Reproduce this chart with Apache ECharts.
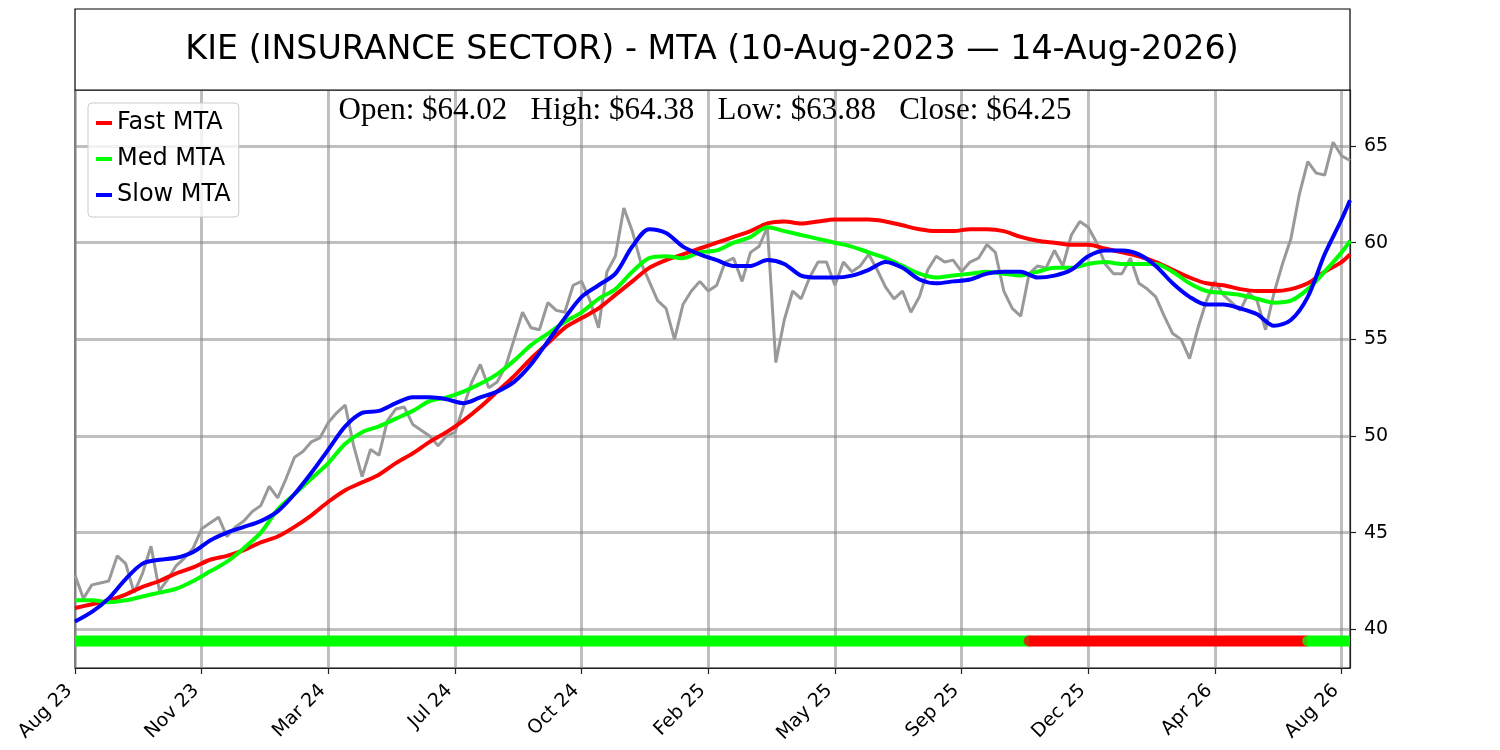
<!DOCTYPE html>
<html>
<head>
<meta charset="utf-8">
<title>KIE - MTA</title>
<script src="https://cdn.jsdelivr.net/npm/echarts@6/dist/echarts.min.js"></script>
<style>
  html, body { margin: 0; padding: 0; background: #fff; }
  #chart { width: 1500px; height: 750px; }
</style>
</head>
<body>
<div id="chart"></div>
<script>
// weekly closes, 10-Aug-2023 .. 14-Aug-2026
var closes = [
  42.8, 41.6, 42.3, 42.4, 42.5, 43.8, 43.4, 41.9, 42.9, 44.3,
  42.0, 42.6, 43.3, 43.7, 44.2, 45.2, 45.5, 45.8, 44.8, 45.3,
  45.6, 46.1, 46.4, 47.4, 46.8, 47.8, 48.9, 49.2, 49.7, 49.9,
  50.7, 51.2, 51.6, 49.5, 47.9, 49.3, 49.0, 50.8, 51.4, 51.5,
  50.6, 50.3, 50.0, 49.5, 50.0, 50.2, 51.5, 52.8, 53.7, 52.5,
  52.8, 53.6, 55.0, 56.4, 55.6, 55.5, 56.9, 56.5, 56.4, 57.8,
  58.0, 57.0, 55.6, 58.5, 59.3, 61.8, 60.6, 59.0, 58.0, 57.0,
  56.6, 55.0, 56.8, 57.5, 58.0, 57.5, 57.8, 59.0, 59.2, 58.0,
  59.5, 59.8, 60.8, 53.8, 56.0, 57.5, 57.1, 58.2, 59.0, 59.0,
  57.8, 59.0, 58.5, 58.8, 59.4, 58.6, 57.7, 57.1, 57.5, 56.4,
  57.2, 58.6, 59.3, 59.0, 59.1, 58.5, 59.0, 59.2, 59.9, 59.5,
  57.5, 56.6, 56.2, 58.4, 58.8, 58.7, 59.6, 58.8, 60.4, 61.1,
  60.8, 60.0, 58.9, 58.4, 58.4, 59.2, 57.9, 57.6, 57.2, 56.2,
  55.3, 55.0, 54.0, 55.6, 57.0, 58.0, 57.3, 56.9, 56.5, 57.4,
  57.0, 55.5, 57.4, 58.9, 60.2, 62.5, 64.2, 63.6, 63.5, 65.2,
  64.5, 64.25
];

// MTA lines, one value every 2 weeks, plus the last week
var fastMta = [
  41.1, 41.3, 41.5, 41.8, 42.2, 42.5, 42.9, 43.2, 43.6, 43.8,
  44.1, 44.5, 44.8, 45.3, 45.9, 46.6, 47.2, 47.6, 48.0, 48.6,
  49.1, 49.7, 50.2, 50.8, 51.5, 52.3, 53.1, 54.0, 54.8, 55.6,
  56.1, 56.6, 57.3, 58.0, 58.7, 59.1, 59.4, 59.7, 60.0, 60.3,
  60.6, 61.0, 61.1, 61.0, 61.1, 61.2, 61.2, 61.2, 61.1, 60.9,
  60.7, 60.6, 60.6, 60.7, 60.7, 60.6, 60.3, 60.1, 60.0, 59.9,
  59.9, 59.7, 59.5, 59.3, 59.0, 58.6, 58.2, 57.9, 57.8, 57.6,
  57.5, 57.5, 57.6, 57.9, 58.5, 59.0, 59.4
];
var medMta = [
  41.5, 41.5, 41.4, 41.5, 41.7, 41.9, 42.1, 42.5, 43.0, 43.5,
  44.2, 45.0, 46.2, 47.0, 47.8, 48.6, 49.6, 50.2, 50.5, 50.9,
  51.3, 51.8, 52.0, 52.3, 52.7, 53.2, 53.9, 54.7, 55.3, 55.9,
  56.4, 57.1, 57.6, 58.5, 59.2, 59.3, 59.2, 59.5, 59.6, 60.0,
  60.3, 60.8, 60.6, 60.4, 60.2, 60.0, 59.8, 59.5, 59.2, 58.8,
  58.4, 58.2, 58.3, 58.4, 58.5, 58.4, 58.3, 58.5, 58.7, 58.7,
  58.9, 59.0, 58.9, 58.9, 58.9, 58.5, 57.9, 57.5, 57.4, 57.3,
  57.1, 56.9, 57.0, 57.6, 58.5, 59.5, 60.1
];
var slowMta = [
  40.4, 40.9, 41.6, 42.6, 43.4, 43.6, 43.7, 44.0, 44.6, 45.0,
  45.3, 45.6, 46.1, 47.0, 48.1, 49.3, 50.5, 51.2, 51.3, 51.7,
  52.0, 52.0, 51.9, 51.7, 52.0, 52.3, 52.8, 53.7, 54.9, 56.1,
  57.2, 57.8, 58.4, 59.8, 60.7, 60.5, 59.8, 59.4, 59.1, 58.8,
  58.8, 59.1, 58.9, 58.3, 58.2, 58.2, 58.3, 58.6, 59.0, 58.7,
  58.1, 57.9, 58.0, 58.1, 58.4, 58.5, 58.5, 58.2, 58.3, 58.6,
  59.3, 59.6, 59.6, 59.4, 58.8, 57.9, 57.2, 56.8, 56.8, 56.6,
  56.3, 55.7, 56.0, 57.2, 59.4, 61.2, 62.2
];

// x tick labels, one every 15 weeks
var tickLabels = ['Aug 23', 'Nov 23', 'Mar 24', 'Jul 24', 'Oct 24', 'Feb 25',
                  'May 25', 'Sep 25', 'Dec 25', 'Apr 26', 'Aug 26'];
var yTicks = [40, 45, 50, 55, 60, 65];

// trend signal: week where each regime starts, 1 = bullish, -1 = bearish
var signalStarts = [0, 113, 146];
var signalStates = [1, -1, 1];

var ohlcNames = ['Open', 'High', 'Low', 'Close'];
var ohlcValues = [64.02, 64.38, 63.88, 64.25];

var TICK_EVERY = 15;
var SIGNAL_LEVEL = 39.4;
var SIGNAL_WIDTH = 11;
var GRID_COLOR = 'rgba(128,128,128,0.5)';

var myChart = echarts.init(document.getElementById('chart'));

var weeks = closes.map(function (v, i) { return String(i); });

function mtaData(values) {
  var last = closes.length - 1;
  return values.map(function (v, k) {
    return [k < values.length - 1 ? k * 2 : last, v];
  });
}

function lineSeries(name, data, color, width, z) {
  return {
    name: name,
    type: 'line',
    data: data,
    showSymbol: false,
    smooth: name === 'Price' ? false : 0.3,
    z: z,
    lineStyle: { color: color, width: width },
    itemStyle: { color: color },
    emphasis: { disabled: true }
  };
}

// bottom signal band, one series per regime; a round dot marks each change
var signalSeries = [];
for (var r = 0; r < signalStarts.length; r++) {
  var from = signalStarts[r];
  var to = r + 1 < signalStarts.length ? signalStarts[r + 1] : closes.length - 1;
  var color = signalStates[r] > 0 ? '#00ff00' : '#ff0000';
  signalSeries.push({
    name: 'signal' + r,
    type: 'line',
    data: weeks.map(function (w, i) { return (i >= from && i <= to) ? SIGNAL_LEVEL : null; }),
    showSymbol: false,
    silent: true,
    z: 3 + r,
    lineStyle: { color: color, width: SIGNAL_WIDTH, cap: 'butt' },
    itemStyle: { color: color }
  });
  if (r > 0) {
    signalSeries.push({
      name: 'signalStart' + r,
      type: 'scatter',
      data: [[from, SIGNAL_LEVEL]],
      symbol: 'circle',
      symbolSize: SIGNAL_WIDTH,
      silent: true,
      z: 3 + r,
      itemStyle: { color: color }
    });
  }
}

var ohlcText = ohlcNames.map(function (n, i) {
  return n + ': $' + ohlcValues[i].toFixed(2);
}).join('   ');

option = {
  animation: false,
  backgroundColor: '#fff',
  grid: {
    left: 75,
    right: 150,
    top: 90,
    bottom: 82,
    show: true,
    borderColor: '#000',
    borderWidth: 1,
    backgroundColor: 'transparent'
  },
  legend: {
    data: ['Fast MTA', 'Med MTA', 'Slow MTA'],
    orient: 'vertical',
    left: 88,
    top: 103,
    icon: 'rect',
    itemWidth: 16,
    itemHeight: 4,
    itemGap: 12,
    padding: [8, 8, 10, 8],
    backgroundColor: 'rgba(255,255,255,0.8)',
    borderColor: '#cccccc',
    borderWidth: 1,
    borderRadius: 4,
    selectedMode: false,
    textStyle: {
      color: '#000',
      fontSize: 24,
      fontFamily: 'DejaVu Sans'
    }
  },
  graphic: [
    {
      type: 'rect',
      shape: { x: 75, y: 9, width: 1275, height: 81 },
      style: { fill: '#fff', stroke: '#000', lineWidth: 1.2 },
      z: 10
    },
    {
      type: 'text',
      x: 712,
      y: 50,
      z: 11,
      style: {
        text: 'KIE (INSURANCE SECTOR) - MTA (10-Aug-2023 \u2014 14-Aug-2026)',
        fontSize: 33.3,
        fontFamily: 'DejaVu Sans',
        fill: '#000',
        textAlign: 'center',
        textVerticalAlign: 'middle'
      }
    },
    {
      type: 'text',
      x: 705,
      y: 111,
      z: 11,
      style: {
        text: ohlcText,
        fontSize: 31,
        fontFamily: "'Liberation Serif', 'Times New Roman', serif",
        fill: '#000',
        textAlign: 'center',
        textVerticalAlign: 'middle'
      }
    }
  ],
  xAxis: {
    type: 'category',
    data: weeks,
    boundaryGap: false,
    axisLine: { lineStyle: { color: '#222', width: 1.2 } },
    axisTick: {
      interval: TICK_EVERY - 1,
      length: 6,
      lineStyle: { color: '#222', width: 1.2 }
    },
    axisLabel: {
      interval: TICK_EVERY - 1,
      rotate: 45,
      margin: 14,
      padding: [0, 8, 0, 0],
      color: '#000',
      fontSize: 19,
      fontFamily: 'DejaVu Sans',
      formatter: function (value, index) {
        return tickLabels[Math.round(index / TICK_EVERY)] || '';
      }
    },
    splitLine: {
      show: true,
      interval: TICK_EVERY - 1,
      lineStyle: { color: GRID_COLOR, width: 3 }
    }
  },
  yAxis: {
    type: 'value',
    position: 'right',
    min: 38,
    max: 67.9,
    axisLine: { show: true, lineStyle: { color: '#222', width: 1.2 } },
    axisTick: {
      show: true,
      length: 6,
      customValues: yTicks,
      lineStyle: { color: '#222', width: 1.2 }
    },
    axisLabel: {
      customValues: yTicks,
      margin: 14,
      color: '#000',
      fontSize: 19,
      fontFamily: 'DejaVu Sans'
    },
    splitLine: {
      show: true,
      lineStyle: { color: GRID_COLOR, width: 3 }
    }
  },
  series: [
    lineSeries('Price', closes, '#999999', 3, 2),
    lineSeries('Fast MTA', mtaData(fastMta), '#ff0000', 4, 6),
    lineSeries('Med MTA', mtaData(medMta), '#00ff00', 4, 7),
    lineSeries('Slow MTA', mtaData(slowMta), '#0000ff', 4, 8)
  ].concat(signalSeries)
};

myChart.setOption(option);
window.addEventListener('resize', function () {
  myChart.resize();
});
</script>
</body>
</html>
